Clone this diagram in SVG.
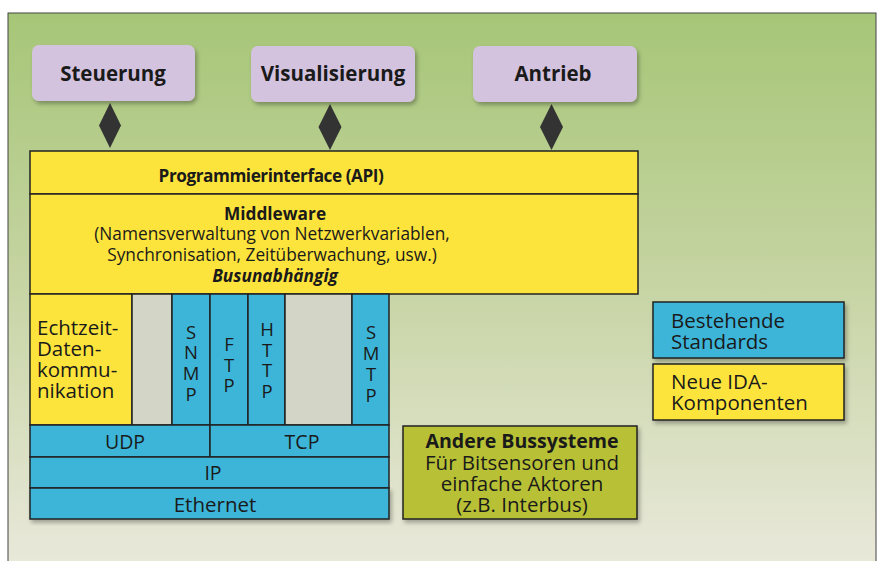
<svg xmlns="http://www.w3.org/2000/svg" width="879" height="561" viewBox="0 0 879 561">
<defs>
<linearGradient id="bg" x1="0" y1="0" x2="0" y2="1">
<stop offset="0" stop-color="#a6c677"/>
<stop offset="0.45" stop-color="#c4d3a0"/>
<stop offset="1" stop-color="#eae9dc"/>
</linearGradient>
<filter id="sh" x="-10%" y="-10%" width="125%" height="130%">
<feDropShadow dx="2" dy="3" stdDeviation="2" flood-color="#000" flood-opacity="0.3"/>
</filter>
<style>
text{font-family:"Open Sans","Noto Sans","Liberation Sans",sans-serif;fill:#1a1a1a;font-size:20.5px}
text.m{font-size:17.3px}
text.api{font-size:17.2px;letter-spacing:-0.45px}
text.v{font-size:18.5px}
text.s{font-size:19.5px}
.b{font-weight:bold}
.c{text-anchor:middle}
.top{fill:#d4c3df}
.y{fill:#fde43c;stroke:#222;stroke-width:1.5}
.bl{fill:#3cb5d9;stroke:#222;stroke-width:1.5}
.g{fill:#d3d6c6;stroke:#222;stroke-width:1.5}
.ol{fill:#b8c135;stroke:#222;stroke-width:1.5}
.dia{fill:#333}
</style>
</defs>
<rect x="0" y="0" width="879" height="561" fill="#fff"/>
<rect x="8" y="13" width="868" height="560" fill="url(#bg)" stroke="#444" stroke-width="1"/>

<g id="connectors">
<path class="dia" d="M110 103 L121 125.5 L110 148 L99 125.5 Z"/>
<path class="dia" d="M330 104 L341.5 127 L330 150 L318.5 127 Z"/>
<path class="dia" d="M551.5 104 L563 127 L551.5 150 L540 127 Z"/>
</g>

<g id="steuerung">
<rect class="top" x="32" y="45" width="163" height="56" rx="7" filter="url(#sh)"/>
<text class="b c" x="113" y="81">Steuerung</text>
</g>
<g id="visualisierung">
<rect class="top" x="251" y="46" width="164" height="56" rx="7" filter="url(#sh)"/>
<text class="b c" x="333" y="81">Visualisierung</text>
</g>
<g id="antrieb">
<rect class="top" x="473" y="46" width="164" height="56" rx="7" filter="url(#sh)"/>
<text class="b c" x="553" y="81">Antrieb</text>
</g>

<g id="api">
<rect class="y" x="30" y="151" width="608" height="43"/>
<text class="api b c" x="271" y="182">Programmierinterface (API)</text>
</g>
<g id="middleware">
<rect class="y" x="30" y="194" width="608" height="100"/>
<text class="m c" x="272"><tspan class="b" x="275" y="220">Middleware</tspan><tspan x="272" y="240">(Namensverwaltung von Netzwerkvariablen,</tspan><tspan x="272" y="261">Synchronisation, Zeitüberwachung, usw.)</tspan><tspan class="b" x="275" y="282" font-style="italic">Busunabhängig</tspan></text>
</g>

<g id="echtzeit">
<rect class="y" x="30" y="294" width="102" height="131"/>
<text x="37"><tspan x="37" y="335">Echtzeit-</tspan><tspan x="37" y="356">Daten-</tspan><tspan x="37" y="377">kommu-</tspan><tspan x="37" y="398">nikation</tspan></text>
</g>
<g id="gap1"><rect class="g" x="132" y="294" width="40" height="131"/></g>
<g id="snmp">
<rect class="bl" x="172" y="294" width="38" height="131"/>
<text class="v c"><tspan x="191" y="339">S</tspan><tspan x="191" y="359">N</tspan><tspan x="191" y="380">M</tspan><tspan x="191" y="401">P</tspan></text>
</g>
<g id="ftp">
<rect class="bl" x="210" y="294" width="38" height="131"/>
<text class="v c"><tspan x="229" y="351">F</tspan><tspan x="229" y="372">T</tspan><tspan x="229" y="392">P</tspan></text>
</g>
<g id="http">
<rect class="bl" x="248" y="294" width="37" height="131"/>
<text class="v c"><tspan x="267" y="336">H</tspan><tspan x="267" y="357">T</tspan><tspan x="267" y="377">T</tspan><tspan x="267" y="398">P</tspan></text>
</g>
<g id="gap2"><rect class="g" x="285" y="294" width="67" height="131"/></g>
<g id="smtp">
<rect class="bl" x="352" y="294" width="37" height="131"/>
<text class="v c"><tspan x="371" y="339">S</tspan><tspan x="371" y="360">M</tspan><tspan x="371" y="381">T</tspan><tspan x="371" y="402">P</tspan></text>
</g>
<g id="udp">
<rect class="bl" x="30" y="425" width="180" height="32"/>
<text class="s c" x="125" y="449">UDP</text>
</g>
<g id="tcp">
<rect class="bl" x="210" y="425" width="179" height="32"/>
<text class="s c" x="302" y="449">TCP</text>
</g>
<g id="ip">
<rect class="bl" x="30" y="457" width="359" height="31"/>
<text class="s c" x="213" y="480">IP</text>
</g>
<g id="ethernet">
<rect class="bl" x="30" y="488" width="359" height="31" filter="url(#sh)"/>
<text class="c" x="215" y="512">Ethernet</text>
</g>

<g id="andere">
<rect class="ol" x="403" y="426" width="234" height="93" filter="url(#sh)"/>
<text class="c"><tspan class="b" x="522" y="448" style="font-size:19.6px">Andere Bussysteme</tspan><tspan x="522" y="470">Für Bitsensoren und</tspan><tspan x="522" y="491">einfache Aktoren</tspan><tspan x="522" y="512">(z.B. Interbus)</tspan></text>
</g>

<g id="legend-bestehend">
<rect class="bl" x="653" y="302" width="191" height="56" filter="url(#sh)"/>
<text><tspan x="671" y="328">Bestehende</tspan><tspan x="671" y="349">Standards</tspan></text>
</g>
<g id="legend-neu">
<rect class="y" x="653" y="364" width="191" height="56" filter="url(#sh)"/>
<text><tspan x="671" y="389">Neue IDA-</tspan><tspan x="671" y="410">Komponenten</tspan></text>
</g>
</svg>
